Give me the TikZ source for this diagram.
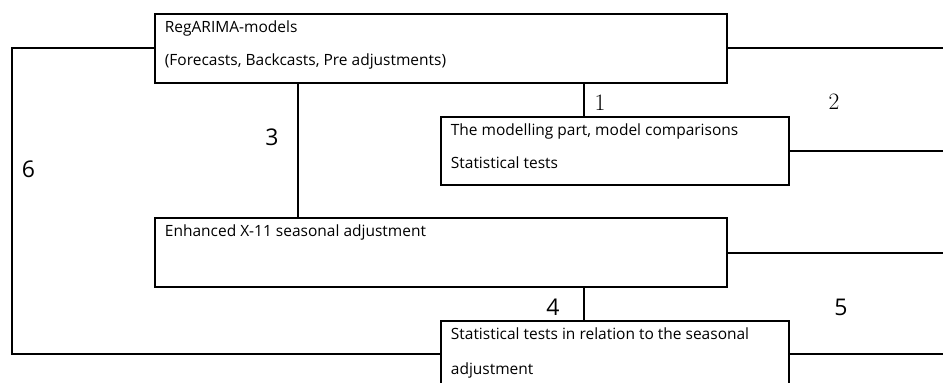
\documentclass[tikz,border=0pt]{standalone}
\usepackage{fontspec}
\newfontfamily\sansf{Open Sans}
\usetikzlibrary{calc}
\newcommand{\twolines}[2]{\vtop{\baselineskip=33pt\hbox{#1}\hbox{#2}}}
\begin{document}
\begin{tikzpicture}[x=1pt,y=-1pt,
  conn/.style={line width=2pt},
  box/.style={draw, line width=2pt, minimum height=68.5pt, inner sep=0pt, outer sep=0pt, anchor=north west},
  txt/.style={anchor=base west, inner sep=0pt, font=\sansf\fontsize{15.5}{33}\selectfont},
  numr/.style={anchor=base, inner sep=0pt, font=\fontsize{23.5}{23.5}\selectfont},
  nums/.style={anchor=base, inner sep=0pt, font=\sansf\fontsize{23}{23}\selectfont}]
\useasboundingbox (0,0) rectangle (943,383);
% boxes
\node[box, minimum width=572pt] (A) at (154.7,14) {};
\node[box, minimum width=348pt] (B) at (440.7,116.7) {};
\node[box, minimum width=572pt] (C) at (154.7,218.3) {};
\node[anchor=north west, minimum width=348pt, minimum height=62pt, inner sep=0pt, outer sep=0pt] (D) at (440.7,321) {};
\draw[conn] (D.south west) -- (D.north west) -- (D.north east) -- (D.south east);
% texts
\node[txt] (At) at ($(A.north west)+(10,18.8)$) {\twolines{RegARIMA-models}{(Forecasts, Backcasts, Pre adjustments)}};
\node[txt] (Bt) at ($(B.north west)+(10,18.5)$) {\twolines{The modelling part, model comparisons}{Statistical tests}};
\node[txt] (Ct) at ($(C.north west)+(10,18.5)$) {Enhanced X-11 seasonal adjustment};
\node[txt] (Dt) at ($(D.north west)+(10,18)$) {\vtop{\baselineskip=35pt\hbox{Statistical tests in relation to the seasonal}\hbox{adjustment}}};
% helper coordinates
\coordinate (edge) at (943,0);
\coordinate (k6) at (12,0);
\coordinate (x3) at (298,0);
\coordinate (x1) at (584,0);
\coordinate (d6) at ($(D.north west)+(0,33)$);
\coordinate (d5) at ($(D.north east)+(0,33)$);
% connectors
\draw[conn] (A.west) -| (k6 |- d6) -- (d6);
\draw[conn] (A.east) -- (A.east -| edge);
\draw[conn] (B.east) -- (B.east -| edge);
\draw[conn] (C.east) -- (C.east -| edge);
\draw[conn] (d5) -- (d5 -| edge);
\draw[conn] (A.south -| x3) -- (C.north -| x3);
\draw[conn] (A.south -| x1) -- (B.north -| x1);
\draw[conn] (C.south -| x1) -- (D.north -| x1);
% labels
\node[numr] (n1) at (600,110) {1};
\node[numr] (n2) at (834,109.5) {2};
\node[nums] (n3) at (272,145) {3};
\node[nums] (n4) at (553,315) {4};
\node[nums] (n5) at (841,315) {5};
\node[nums] (n6) at (28.5,177) {6};
\end{tikzpicture}
\end{document}
